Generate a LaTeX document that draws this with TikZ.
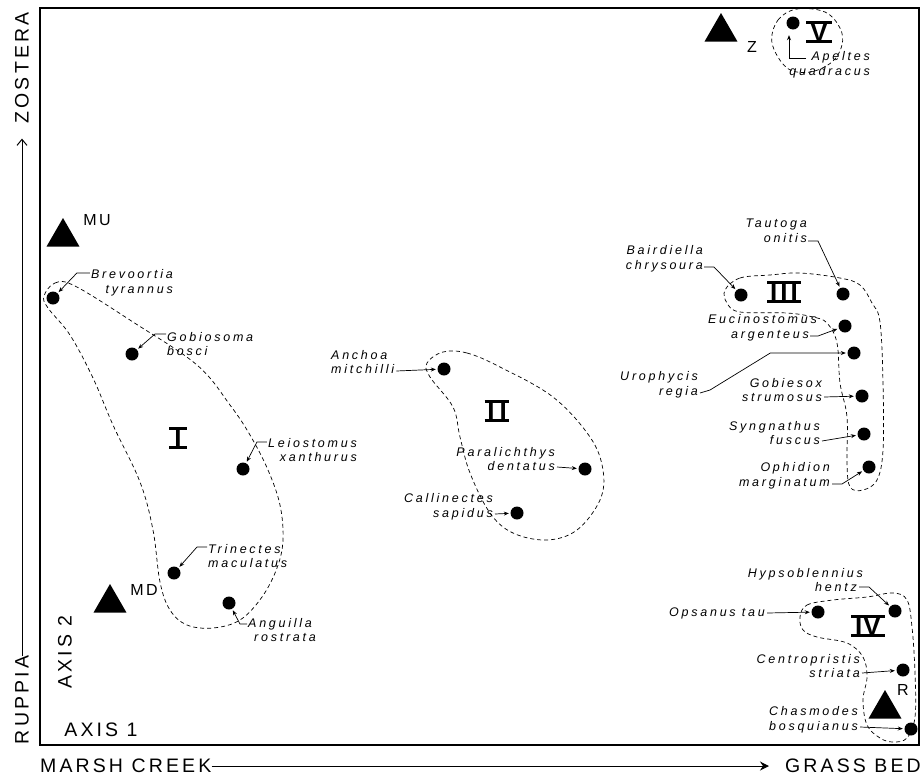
\documentclass[tikz,border=0pt]{standalone}
\usepackage{fontspec}
\setmainfont{Liberation Sans}
\newfontfamily\axfont[LetterSpace=16]{Liberation Sans}
\newfontfamily\labfont[LetterSpace=22]{Liberation Sans}
\newfontfamily\numfont{Liberation Sans}
\usetikzlibrary{arrows.meta,shapes.geometric}
\tikzset{
  dot/.style={circle, fill=black, inner sep=0pt, minimum size=13pt},
  tri/.style={regular polygon, regular polygon sides=3, fill=black, inner sep=0pt, minimum size=38pt},
  lab/.style={font={\labfont\itshape\fontsize{12.5}{14.5}\selectfont}, inner sep=0pt},
  tlab/.style={font={\axfont\fontsize{16}{18}\selectfont}, inner sep=0pt},
  axlab/.style={font={\axfont\fontsize{19.5}{20}\selectfont}, inner sep=0pt},
  numeral/.style={font={\numfont\bfseries\fontsize{26}{26}\selectfont}, inner xsep=2.5pt, inner ysep=0pt, text height=18.5pt, text depth=0pt},
  bar/.style={line width=2.8pt},
  hull/.style={draw, dash pattern=on 4pt off 3pt, line width=0.7pt},
  arr/.style={-{Stealth[length=5pt,width=4pt]}, line width=0.7pt, shorten >=1.5pt},
  axarr/.style={-{Straight Barb[length=6pt,width=10pt]}, line width=1pt},
  axarrh/.style={-{Stealth[length=9pt,width=9pt,inset=3pt]}, line width=1pt}
}
\begin{document}
\begin{tikzpicture}[x=1pt,y=-1pt]
\useasboundingbox (0,0) rectangle (921,777);
% frame
\draw[line width=1.3pt] (40,8) rectangle (919,745);

% axis labels
\node[axlab, rotate=90] (zos) at (22,68) {ZOSTERA};
\node[axlab, rotate=90] (rup) at (22,700) {RUPPIA};
\node[axlab, rotate=90] (ax2) at (65,652) {AXIS 2};
\node[axlab] (ax1) at (101,730) {AXIS 1};
\node[axlab, anchor=west] (marsh) at (40,766) {MARSH CREEK};
\node[axlab, anchor=east] (grass) at (921,766) {GRASS BED};
\draw[axarr, shorten >=15pt] (rup.east) -- (zos.west);
\draw[axarrh, shorten >=16pt] (marsh.east) -- (grass.west);

% triangles
\node[tri] (mu) at (63,237) {};
\node[tri] (md) at (110,603) {};
\node[tri] (z) at (721,32) {};
\node[tri] (r) at (885,709) {};
\node[tlab] (muL) at (97,220) {MU};
\node[tlab] (mdL) at (144,590) {MD};
\node[tlab] (zL) at (752,47) {Z};
\node[tlab] (rL) at (903,690) {R};

% hulls
\draw[hull] plot[smooth cycle, tension=0.6] coordinates {(44,296) (55,283) (75,286) (133,322) (197,365) (230,405) (250,435) (268,470) (280,505) (283,540) (277,568) (262,597) (240,620) (213,628) (187,625) (170,610) (160,582) (153,530) (140,482) (113,425) (93,378) (70,335) (48,308)};
\draw[hull] plot[smooth cycle, tension=0.6] coordinates {(443,352) (467,353) (500,367) (553,397) (590,437) (603,470) (600,500) (577,530) (547,540) (513,533) (490,513) (470,473) (460,437) (453,407) (430,377) (427,363)};
\draw[hull] plot[smooth cycle, tension=0.6] coordinates {(725,290) (740,278) (770,275) (800,273) (840,278) (860,285) (872,303) (880,322) (883,383) (883,450) (877,480) (863,490) (850,487) (847,463) (847,417) (840,383) (837,343) (827,323) (813,317) (787,313) (740,312) (727,303)};
\draw[hull] plot[smooth cycle, tension=0.6] coordinates {(800,617) (807,605) (833,600) (867,597) (893,593) (907,600) (912,627) (915,673) (915,717) (907,738) (893,742) (880,738) (867,725) (863,700) (867,677) (863,657) (847,643) (817,637) (803,630)};
\draw[hull] plot[smooth cycle, tension=0.6] coordinates {(772,43) (778,20) (797,9) (825,12) (840,28) (842,45) (832,62) (810,72) (787,68)};

% numerals
\node[numeral, inner xsep=5pt] (nI) at (178,438) {I};
\node[numeral] (nII) at (497,411) {I\kern5pt I};
\node[numeral] (nIII) at (784,292) {I\kern3pt I\kern3pt I};
\node[numeral, inner xsep=4pt] (nIV) at (868,626) {I\kern1pt V};
\node[numeral, inner xsep=4pt] (nV) at (819,32) {V};
\foreach \n in {nI,nII,nIII,nIV,nV} {
  \draw[bar] (\n.north west) -- (\n.north east);
  \draw[bar] (\n.south west) -- (\n.south east);
}

% dots
\node[dot] (brev) at (53,298) {};
\node[dot] (gob) at (132,354) {};
\node[dot] (lei) at (243,469) {};
\node[dot] (tri) at (174,573) {};
\node[dot] (ang) at (229,603) {};
\node[dot] (anc) at (444,369) {};
\node[dot] (par) at (585,469) {};
\node[dot] (cal) at (517,513) {};
\node[dot] (ape) at (793,23) {};
\node[dot] (bai) at (741,295) {};
\node[dot] (tau) at (843,294) {};
\node[dot] (euc) at (845,326) {};
\node[dot] (uro) at (854,353) {};
\node[dot] (gbx) at (862,396) {};
\node[dot] (syn) at (864,434) {};
\node[dot] (oph) at (869,467) {};
\node[dot] (ops) at (818,612) {};
\node[dot] (hyp) at (895,611) {};
\node[dot] (cen) at (903,670) {};
\node[dot] (cha) at (911,729) {};

% labels
\node[lab, align=right, anchor=east] (brevL) at (173,283) {Brevoortia\\tyrannus};
\node[lab, align=left, anchor=west] (gobL) at (167,344) {Gobiosoma\\bosci};
\node[lab, align=right, anchor=east] (leiL) at (357,450) {Leiostomus\\xanthurus};
\node[lab, align=left, anchor=west] (triL) at (208,556) {Trinectes\\maculatus};
\node[lab, align=left, anchor=west] (angL) at (248,630) {Anguilla\\\hspace*{6pt}rostrata};
\node[lab, align=left, anchor=west] (ancL) at (331,362) {Anchoa\\mitchilli};
\node[lab, align=right, anchor=east] (parL) at (555,459) {Paralichthys\\dentatus};
\node[lab, align=right, anchor=east] (calL) at (493,507) {Callinectes\\sapidus};
\node[lab, align=right, anchor=east] (apeL) at (870,65) {Apeltes\\quadracus};
\node[lab, align=right, anchor=east] (baiL) at (703,259) {Bairdiella\\chrysoura};
\node[lab, align=right, anchor=east] (tauL) at (807,231) {Tautoga\\onitis};
\node[lab, align=right, anchor=east] (eucL) at (817,328) {Eucinostomus\\argenteus\hspace*{8pt}};
\node[lab, align=right, anchor=east] (uroL) at (698,385) {Urophycis\\regia};
\node[lab, align=right, anchor=east] (gbxL) at (822,390) {Gobiesox\\strumosus};
\node[lab, align=right, anchor=east] (synL) at (820,433) {Syngnathus\\fuscus};
\node[lab, align=right, anchor=east] (ophL) at (830,476) {Ophidion\\marginatum};
\node[lab, align=right, anchor=east] (hypL) at (863,580) {Hypsoblennius\\hentz\hspace*{6pt}};
\node[lab, anchor=east] (opsL) at (765,613) {Opsanus tau};
\node[lab, align=right, anchor=east] (cenL) at (860,666) {Centropristis\\striata};
\node[lab, align=right, anchor=east] (chaL) at (858,720) {Chasmodes\\bosquianus};

% arrows
\draw[arr] ([xshift=-1pt,yshift=10pt]brevL.west) -- ++(-13,0) -- (brev);
\draw[arr] ([xshift=-1pt,yshift=10pt]gobL.west) -- ++(-11,0) -- (gob);
\draw[arr] ([xshift=-1pt,yshift=8pt]leiL.west) -- ++(-10,0) -- (lei);
\draw[arr] ([xshift=-1pt,yshift=9pt]triL.west) -- ++(-10,0) -- (tri);
\draw[arr] ([xshift=-1pt,yshift=6pt]angL.west) -- ++(-7,0) -- (ang);
\draw[arr] ([xshift=2pt,yshift=-9pt]ancL.east) -- (anc);
\draw[arr] ([xshift=2pt,yshift=-8pt]parL.east) -- (par);
\draw[arr] ([xshift=2pt,yshift=-7pt]calL.east) -- (cal);
\draw[arr] ([xshift=-64pt,yshift=-7pt]apeL.north east) -| ([xshift=-4pt,yshift=-4pt]ape.south);
\draw[arr] ([xshift=1pt,yshift=-8pt]baiL.east) -- ++(10,0) -- (bai);
\draw[arr] ([xshift=1pt,yshift=-10pt]tauL.east) -- ++(10,0) -- (tau);
\draw[arr] ([xshift=-7pt,yshift=-8pt]eucL.east) -- ++(8,0) -- (euc);
\draw[arr] ([xshift=2pt,yshift=-8pt]uroL.east) -- ++(10,-3) -- ([xshift=-77pt]uro.west) -- (uro);
\draw[arr] ([xshift=2pt,yshift=-7pt]gbxL.east) -- (gbx);
\draw[arr] ([xshift=2pt,yshift=-8pt]synL.east) -- (syn);
\draw[arr] ([xshift=2pt,yshift=-8pt]ophL.east) -- ++(10,0) -- (oph);
\draw[arr] ([xshift=-4pt,yshift=-7pt]hypL.east) -- ++(10,0) -- (hyp);
\draw[arr] ([xshift=2pt]opsL.east) -- (ops);
\draw[arr] ([xshift=2pt,yshift=-7pt]cenL.east) -- (cen);
\draw[arr] ([xshift=2pt,yshift=-7pt]chaL.east) -- (cha);
\end{tikzpicture}
\end{document}
